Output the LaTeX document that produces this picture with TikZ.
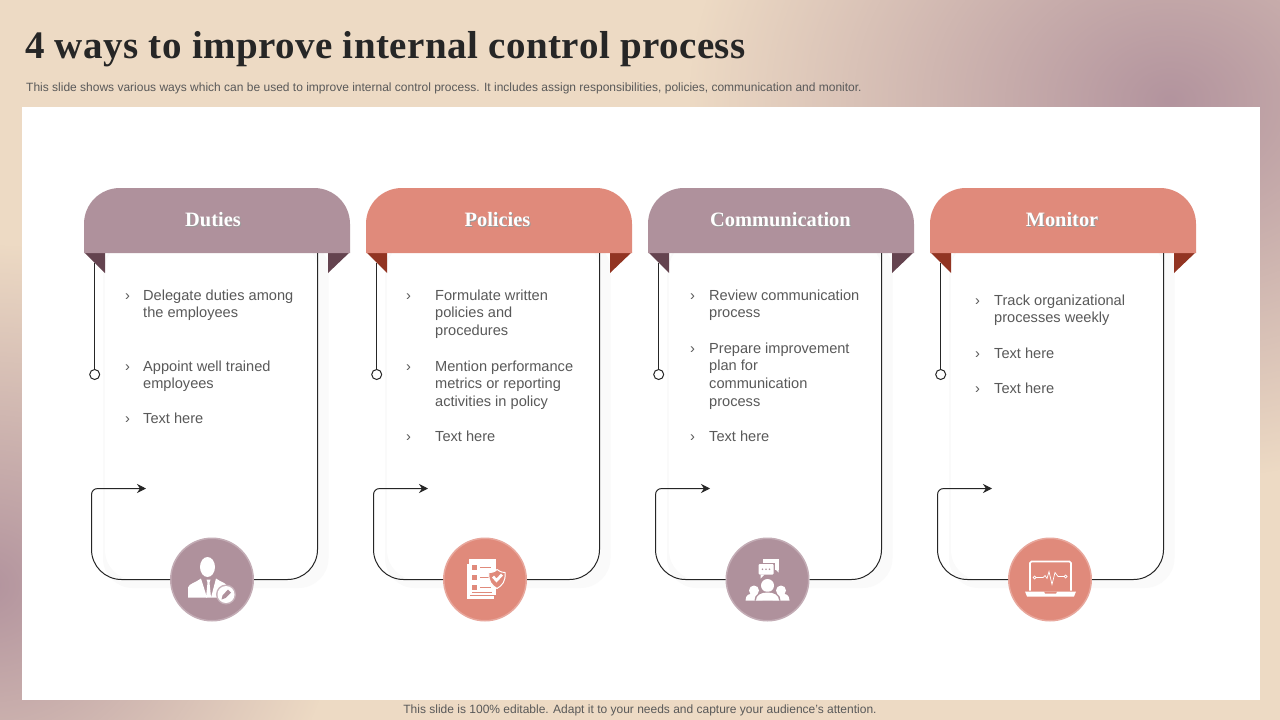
\documentclass[tikz,border=0pt]{standalone}
\usepackage{fontspec}
\setmainfont{Liberation Sans}
\newfontfamily\headfont{Liberation Serif}
\newfontfamily\titlefont[LetterSpace=1.2]{Liberation Serif}
\usetikzlibrary{fadings,arrows.meta}

\definecolor{bgpeach}{HTML}{EDDAC4}
\definecolor{bgmauve}{HTML}{B3949E}
\definecolor{huemauve}{HTML}{AF919C}
\definecolor{huesalmon}{HTML}{E08A7B}
\definecolor{foldmauve}{HTML}{64434F}
\definecolor{foldsalmon}{HTML}{923422}
\definecolor{inktext}{HTML}{595959}
\definecolor{inktitle}{HTML}{262626}
\definecolor{inkline}{HTML}{262626}
\definecolor{cardedge}{HTML}{FAFAFA}

\tikzfading[name=bgfade, inner color=transparent!0, outer color=transparent!100]

\tikzset{
  titletext/.style={anchor=base west,inner sep=0,text=inktitle,font=\titlefont\bfseries\fontsize{39}{44}\selectfont},
  smalltext/.style={anchor=base west,inner sep=0,text=inktext,font=\fontsize{12}{14}\selectfont},
  headtext/.style={inner sep=0,text=white,font=\headfont\bfseries\fontsize{20.4}{24}\selectfont},
  itemtext/.style={anchor=north west,inner sep=0,align=left,text=inktext,font=\fontsize{14.6}{17.7}\selectfont},
  ctlline/.style={draw=inkline,line width=1pt},
  ringdot/.style={circle,draw=inkline,fill=white,line width=1pt,inner sep=0,minimum size=10pt},
  iconball/.style={circle,inner sep=0,minimum size=82.5pt,line width=1.5pt}
}

% one bullet with its text: name, bullet x, text x, y of first line, text
\newcommand{\ctlitem}[5]{
  \node[itemtext] (#1m) at (#2,#4-7.4) {\strut›};
  \node[itemtext] (#1t) at (#3,#4-7.4) {\strut #5};
}
\newcommand{\softshadow}[1]{\rlap{\raisebox{-1.2pt}{\kern1pt\textcolor{black!40}{#1}}}#1}

\begin{document}
\begin{tikzpicture}[x=1pt,y=-1pt]
  \useasboundingbox (0,0) rectangle (1280,720);
  \begin{scope}
    \clip (0,0) rectangle (1280,720);
    \fill[bgpeach] (0,0) rectangle (1280,720);
    \fill[bgmauve,path fading=bgfade] (1170,100) ellipse (480 and 380);
    \fill[bgmauve,path fading=bgfade] (-10,585) ellipse (350 and 340);
  \end{scope}
  \fill[white] (22,107) rectangle (1260,700);

  \node[titletext] (title) at (25,58) {4 ways to improve internal control process};
  \node[smalltext] (subtitle) at (26,91) {This slide shows various ways which can be used to improve internal control process. It includes assign responsibilities, policies, communication and monitor.};
  \node[smalltext,anchor=base] (footer) at (640,713) {This slide is 100\% editable. Adapt it to your needs and capture your audience's attention.};

  \foreach \cx/\ballx/\headx/\hue/\fold/\head/\tag in {
      0/212/213/huemauve/foldmauve/Duties/duties,
      282/203/215.5/huesalmon/foldsalmon/Policies/policies,
      564/203.5/216.5/huemauve/foldmauve/Communication/comms,
      846/204/216/huesalmon/foldsalmon/Monitor/monitor}{
    \begin{scope}[xshift=\cx]
      % card with its soft edge
      \fill[cardedge,rounded corners=30] (103,240) -- (103,588) -- (328.5,588) -- (328.5,240) -- cycle;
      \fill[white,rounded corners=30] (105,240) -- (105,580) -- (317.5,580) -- (317.5,240) -- cycle;
      % header with folds
      \fill[\fold] (84,252) -- (105,252) -- (105,273) -- cycle;
      \fill[\fold] (350,252) -- (328,252) -- (328,273) -- cycle;
      \fill[\hue] (84,253) -- (84,224) .. controls (84,204) and (100,188) .. (120,188) -- (314,188) .. controls (334,188) and (350,204) .. (350,224) -- (350,253) -- cycle;
      \node[headtext] (\tag head) at (\headx,220) {\softshadow{\head}};
      % lines round the card
      \node[iconball,fill=\hue,draw=\hue!75!white] (\tag ball) at (\ballx,579.5) {};
      \coordinate (\tag top) at (317.5,253);
      \coordinate (\tag tip) at (146,488.5);
      \coordinate (\tag hook) at (94.7,263);
      \node[ringdot] (\tag dot) at (94.7,374.5) {};
      \draw[ctlline,rounded corners=30] (\tag ball.east) -| (\tag top);
      \draw[ctlline,-{Stealth[length=9pt,width=9pt]}] (\tag ball.west) [rounded corners=30] -- (91.5,579.5) [sharp corners] -- (91.5,495) .. controls (91.5,491) and (94,488.5) .. (98,488.5) -- (\tag tip);
      \draw[ctlline] (\tag hook) -- (\tag dot);
    \end{scope}
  }

  \ctlitem{d1}{125}{143}{295}{Delegate duties among\\the employees}
  \ctlitem{d2}{125}{143}{366}{Appoint well trained\\employees}
  \ctlitem{d3}{125}{143}{418}{Text here}

  \ctlitem{p1}{406}{435}{295}{Formulate written\\policies and\\procedures}
  \ctlitem{p2}{406}{435}{366}{Mention performance\\metrics or reporting\\activities in policy}
  \ctlitem{p3}{406}{435}{436}{Text here}

  \ctlitem{c1}{690}{709}{295}{Review communication\\process}
  \ctlitem{c2}{690}{709}{348}{Prepare improvement\\plan for\\communication\\process}
  \ctlitem{c3}{690}{709}{436}{Text here}

  \ctlitem{m1}{975}{994}{300}{Track organizational\\processes weekly}
  \ctlitem{m2}{975}{994}{353}{Text here}
  \ctlitem{m3}{975}{994}{388}{Text here}

  % person with pencil badge
  \begin{scope}[shift={(dutiesball.center)}]
    \fill[white] (-4.5,-12.5) ellipse (7.5 and 10);
    \fill[white] (-24,18) -- (-24,8) .. controls (-23,4) and (-16,3) .. (-11,-1) -- (-5,18) -- cycle;
    \fill[white] (-1,18) -- (4,-1) .. controls (8,2) and (13,3) .. (15,6) -- (13,18) -- cycle;
    \fill[white] (-5.5,0) -- (-1.5,0) -- (-2.5,3) -- (-1,18) -- (-6,18) -- (-4.5,3) -- cycle;
    \fill[huemauve!70!white] (14,15) circle (10);
    \fill[white] (14,15) circle (8.5);
    \fill[huemauve] (9.5,20) -- (10.5,16) -- (16,10) -- (19,13) -- (13.5,18.5) -- cycle;
  \end{scope}

  % checklist with shield
  \begin{scope}[shift={(policiesball.center)}]
    \fill[white] (-18,-16) rectangle (-15,19);
    \fill[white] (-18,16) rectangle (9,19);
    \fill[white] (-16,-21) rectangle (11,15);
    \foreach \iy in {-15,-5,5}{
      \fill[huesalmon] (-13,\iy) rectangle (-8,\iy+5);
      \draw[huesalmon,line width=1pt] (-5,\iy+2.5) -- (6,\iy+2.5);
    }
    \draw[huesalmon,line width=1pt] (-13,13) -- (7,13);
    \fill[huesalmon,draw=white,line width=1pt] (12,-10) .. controls (16,-7) and (19,-7) .. (20,-7) .. controls (21,2) and (17,6) .. (12,9) .. controls (7,6) and (3,2) .. (4,-7) .. controls (6,-7) and (9,-7) .. (12,-10) -- cycle;
    \fill[white] (7,-2) -- (9,-4) -- (11.5,-1) -- (16,-6) -- (18,-4) -- (11.5,3) -- cycle;
  \end{scope}

  % group with speech bubbles
  \begin{scope}[shift={(commsball.center)}]
    \fill[white] (-5,-21) rectangle (11,-10);
    \fill[white] (8,-10) -- (11,-10) -- (11,-7) -- cycle;
    \fill[huemauve] (-10.5,-17) rectangle (7.5,-3.5);
    \fill[white,rounded corners=1] (-9,-15.5) rectangle (6,-5);
    \fill[white] (-7,-5) -- (-3,-5) -- (-7,-1) -- cycle;
    \foreach \ix in {-5,-1.5,2}{\fill[huemauve] (\ix,-10.2) circle (.9);}
    \fill[white] (-13.5,11) circle (5);
    \fill[white] (13.5,11) circle (5);
    \fill[white] (-22,21) .. controls (-22,15) and (-18,14) .. (-13,14) .. controls (-8,14) and (-5,16) .. (-5,21) -- cycle;
    \fill[white] (22,21) .. controls (22,15) and (18,14) .. (13,14) .. controls (8,14) and (5,16) .. (5,21) -- cycle;
    \fill[huemauve] (0,6) circle (7.5);
    \fill[white] (0,6) circle (6.5);
    \fill[huemauve] (-13,21) .. controls (-13,15) and (-8,12) .. (0,12) .. controls (8,12) and (13,15) .. (13,21) -- cycle;
    \fill[white] (-11.5,21) .. controls (-11.5,16) and (-7,13) .. (0,13) .. controls (7,13) and (11.5,16) .. (11.5,21) -- cycle;
  \end{scope}

  % laptop with pulse line
  \begin{scope}[shift={(monitorball.center)}]
    \draw[white,line width=1.6pt,rounded corners=1.5] (-20,11) -- (-20,-18) -- (21,-18) -- (21,11);
    \fill[white] (-25,12) -- (26,12) -- (24,17) -- (-23,17) -- cycle;
    \fill[huesalmon] (-6,12) -- (7,12) -- (6,14) -- (-5,14) -- cycle;
    \draw[white,line width=.7pt] (-14,-2) -- (-7,-2) -- (-5,-4) -- (-3,-1) -- (-1,-8) -- (2,5) -- (5,-7) -- (8,-3) -- (14,-3);
    \draw[white,line width=.7pt] (-15.5,-2) circle (1.5);
    \draw[white,line width=.7pt] (15.5,-3) circle (1.5);
  \end{scope}
\end{tikzpicture}
\end{document}
